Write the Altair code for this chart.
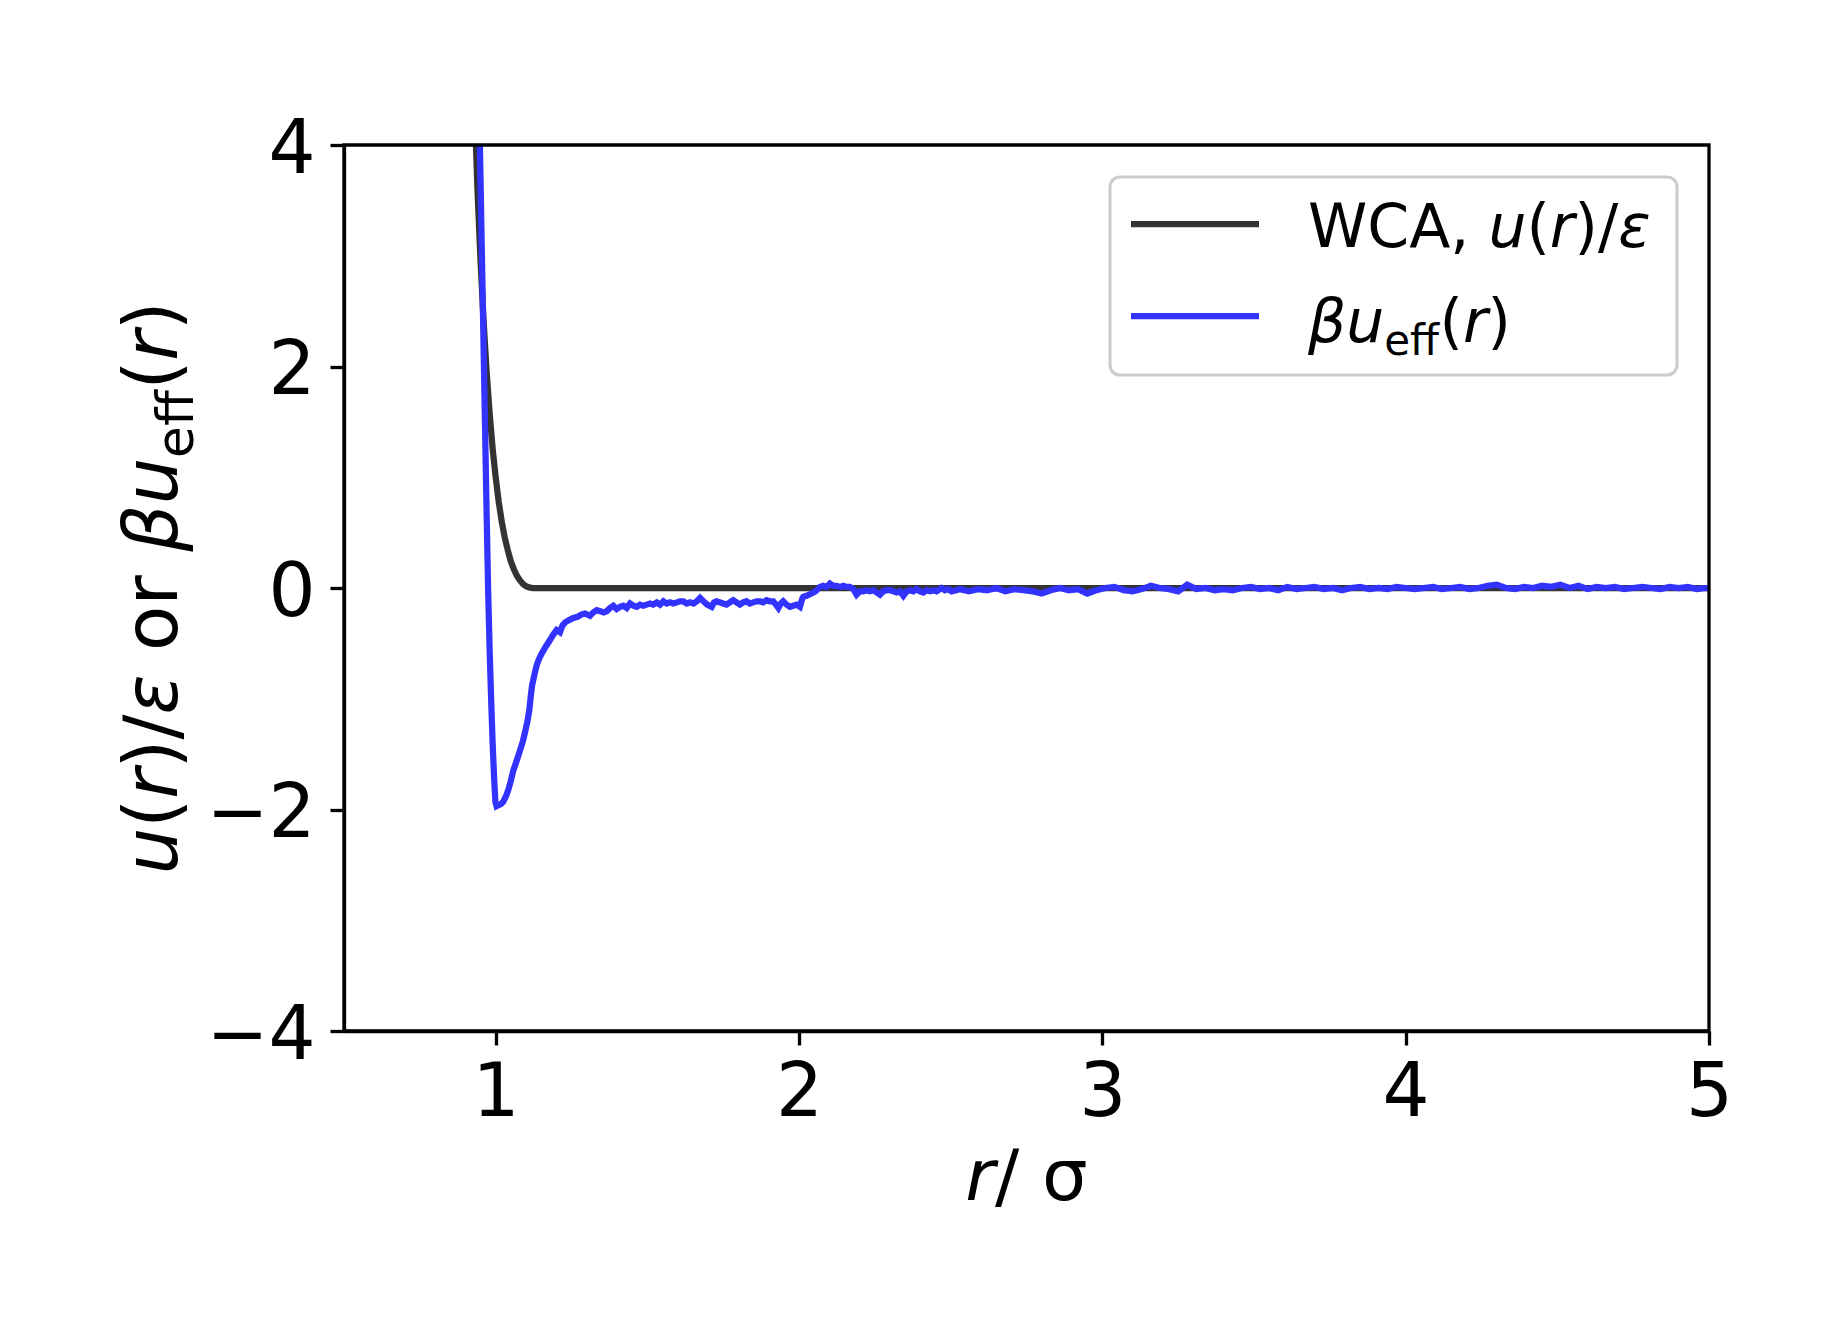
import altair as alt
import pandas as pd

# ---------------- data ----------------
r_wca = [0.925, 0.935, 0.94, 0.95, 0.96, 0.97, 0.98, 0.99, 1.00, 1.01, 1.02, 1.03,
         1.04, 1.05, 1.06, 1.07, 1.08, 1.09, 1.10, 1.11, 1.1225, 5.0]
u_wca = [4.8, 4.0, 3.6, 2.96, 2.42, 1.96, 1.58, 1.26, 1.00, 0.78, 0.60, 0.455,
         0.34, 0.24, 0.17, 0.11, 0.068, 0.037, 0.016, 0.005, 0.0, 0.0]

r_eff = [0.944, 0.948, 0.956, 0.964, 0.970, 0.975, 0.980, 0.985, 0.990, 0.995, 0.999,
         1.003, 1.010, 1.018, 1.025, 1.034, 1.042, 1.050, 1.058, 1.068, 1.080, 1.090,
         1.097, 1.105, 1.111, 1.116, 1.120, 1.128, 1.135, 1.143, 1.152, 1.165, 1.179,
         1.190, 1.201, 1.212, 1.220, 1.229, 1.242, 1.256, 1.270, 1.282, 1.294, 1.311,
         1.322, 1.333, 1.345, 1.356, 1.366, 1.377, 1.388, 1.399, 1.410, 1.421, 1.432,
         1.443, 1.454, 1.465, 1.476, 1.487, 1.498, 1.509, 1.519, 1.531, 1.542, 1.553,
         1.564, 1.575, 1.586, 1.597, 1.608, 1.619, 1.630, 1.641, 1.652, 1.663, 1.674,
         1.685, 1.697, 1.712, 1.720, 1.728, 1.740, 1.750, 1.761, 1.772, 1.783, 1.794,
         1.805, 1.816, 1.827, 1.838, 1.849, 1.860, 1.871, 1.882, 1.893, 1.904, 1.915,
         1.924, 1.932, 1.940, 1.948, 1.959, 1.970, 1.981, 1.992, 2.003, 2.010, 2.014,
         2.025, 2.041, 2.055, 2.069, 2.080, 2.091, 2.102, 2.113, 2.124, 2.135, 2.146,
         2.157, 2.168, 2.179, 2.190, 2.201, 2.212, 2.223, 2.234, 2.245, 2.256, 2.267,
         2.278, 2.289, 2.300, 2.311, 2.322, 2.333, 2.344, 2.355, 2.366, 2.377, 2.388,
         2.399, 2.410, 2.421, 2.432, 2.443, 2.454, 2.470, 2.481, 2.492, 2.503, 2.519,
         2.53, 2.56, 2.59, 2.62, 2.65, 2.68, 2.71, 2.74, 2.77, 2.80, 2.83, 2.86, 2.89,
         2.92, 2.95, 2.98, 3.01, 3.04, 3.07, 3.10, 3.13, 3.16, 3.19, 3.22, 3.25, 3.28,
         3.31, 3.34, 3.37, 3.40, 3.43, 3.46, 3.49, 3.52, 3.55, 3.58, 3.61, 3.64, 3.67,
         3.70, 3.73, 3.76, 3.79, 3.82, 3.85, 3.88, 3.91, 3.94, 3.97, 4.00, 4.03, 4.06,
         4.09, 4.12, 4.15, 4.18, 4.21, 4.24, 4.27, 4.30, 4.33, 4.36, 4.39, 4.42, 4.45,
         4.48, 4.51, 4.54, 4.57, 4.60, 4.63, 4.66, 4.69, 4.72, 4.75, 4.78, 4.81, 4.84,
         4.87, 4.90, 4.93, 4.96, 4.99, 5.00]
u_eff = [4.6, 4.0, 2.8, 1.6, 0.7, 0.0, -0.55, -1.0, -1.4, -1.72, -1.93,
         -1.97, -1.96, -1.95, -1.93, -1.88, -1.82, -1.74, -1.65, -1.57, -1.47, -1.38,
         -1.30, -1.20, -1.10, -0.97, -0.88, -0.78, -0.70, -0.64, -0.59, -0.53, -0.47,
         -0.42, -0.38, -0.40, -0.34, -0.31, -0.29, -0.27, -0.26, -0.24, -0.23, -0.25,
         -0.22, -0.20, -0.21, -0.22, -0.21, -0.18, -0.16, -0.19, -0.17, -0.16, -0.18,
         -0.14, -0.16, -0.17, -0.15, -0.16, -0.15, -0.14, -0.15, -0.13, -0.15, -0.12,
         -0.14, -0.13, -0.14, -0.13, -0.12, -0.12, -0.14, -0.13, -0.14, -0.12, -0.09,
         -0.12, -0.15, -0.17, -0.13, -0.12, -0.13, -0.14, -0.15, -0.13, -0.11, -0.13,
         -0.15, -0.13, -0.12, -0.14, -0.13, -0.12, -0.12, -0.13, -0.11, -0.12, -0.12,
         -0.15, -0.18, -0.14, -0.12, -0.15, -0.17, -0.16, -0.15, -0.17, -0.10, -0.08,
         -0.07, -0.05, -0.03, 0.01, 0.02, 0.01, 0.04, 0.02, 0.02, 0.01, 0.02,
         0.01, 0.01, -0.01, -0.06, -0.03, -0.03, -0.02, -0.03, -0.02, -0.04, -0.06,
         -0.03, -0.02, -0.02, -0.03, -0.04, -0.03, -0.07, -0.03, -0.02, -0.03, -0.01,
         -0.03, -0.04, -0.02, -0.03, -0.02, -0.03, 0.00, -0.02, -0.01, -0.03, -0.02,
         -0.01, -0.03, -0.01, -0.02, 0.00, -0.03, -0.01, -0.02, -0.03, -0.05, -0.02, 0.00, -0.02,
         -0.01, -0.05, -0.02, 0.00, 0.01, -0.02, -0.03, -0.01, 0.02, 0.00, -0.01, -0.03, 0.03,
         -0.01, 0.00, -0.02, -0.01, -0.02, 0.00, 0.01, -0.01, 0.00, -0.02, 0.01, -0.01, 0.00,
         0.01, -0.01, 0.00, -0.02, 0.00, 0.01, -0.01, 0.00, -0.01, 0.01, 0.00, -0.01, 0.00,
         0.01, -0.01, 0.00, 0.01, -0.01, 0.00, 0.02, 0.03, 0.00, -0.01, 0.01, 0.00, 0.02,
         0.01, 0.03, 0.00, 0.02, -0.01, 0.01, 0.00, 0.01, -0.01, 0.00, 0.01, 0.00, -0.01,
         0.01, 0.00, 0.01, -0.01, 0.00, 0.00]

x_ticks = [1, 2, 3, 4, 5]
y_ticks = [-4, -2, 0, 2, 4]
series_names = ["a_wca", "b_eff"]
series_colors = ["#333333", "#3333ff"]

# ---------------- layout ----------------
W, H = 1365, 886
FONT = "DejaVu Sans"
TICK_FS = 74
LW = 6.25
NB = "\u00a0"  # non-breaking space so SVG keeps it

lines_df = pd.concat([
    pd.DataFrame({"r": r_wca, "u": u_wca, "s": series_names[0], "o": range(len(r_wca))}),
    pd.DataFrame({"r": r_eff, "u": u_eff, "s": series_names[1], "o": range(len(r_eff))}),
])

lines = alt.Chart(lines_df).mark_line(clip=True, strokeWidth=LW).encode(
    x=alt.X("r:Q", scale=alt.Scale(domain=[0.5, 5], nice=False, zero=False),
            axis=alt.Axis(values=x_ticks, format="d", title=None, grid=False,
                          labelFont=FONT, labelFontSize=TICK_FS, labelColor="black",
                          labelFlush=False, labelOverlap=False,
                          tickSize=14, tickWidth=3.3, tickColor="black",
                          domainColor="black", domainWidth=3.3, labelPadding=12)),
    y=alt.Y("u:Q", scale=alt.Scale(domain=[-4, 4], nice=False, zero=False),
            axis=alt.Axis(values=y_ticks, title=None, grid=False,
                          labelExpr="datum.value < 0 ? '\u2212' + format(-datum.value, 'd') : format(datum.value, 'd')",
                          labelFont=FONT, labelFontSize=TICK_FS, labelColor="black",
                          labelFlush=False, labelOverlap=False,
                          tickSize=14, tickWidth=3.3, tickColor="black",
                          domainColor="black", domainWidth=3.3, labelPadding=15,
                          labelOffset=5)),
    color=alt.Color("s:N", scale=alt.Scale(domain=series_names, range=series_colors), legend=None),
    order="o:Q",
)

# ---------------- mixed-style text pieces ----------------
CW = {"W": 0.989, "C": 0.698, "A": 0.684, ",": 0.318, " ": 0.318, NB: 0.318, "u": 0.634,
      "(": 0.390, "r": 0.411, ")": 0.390, "/": 0.337, "\u03b5": 0.541,
      "\u03b2": 0.635, "\u03c3": 0.634, "e": 0.615, "f": 0.352, "o": 0.612}


def pieces_layout(pieces, fs, x0, y0, rotated=False, center=False):
    """pieces: (text, italic, subscript); a text of only spaces just advances."""
    rows = []
    widths = []
    for txt, ital, sub in pieces:
        size = fs * 0.7 if sub else fs
        widths.append(sum(CW.get(c, 0.6) for c in txt) * size)
    total = sum(widths)
    off = -total / 2 if center else 0.0
    for (txt, ital, sub), w in zip(pieces, widths):
        size = fs * 0.7 if sub else fs
        shift = 0.22 * fs if sub else 0.0
        if txt.strip(" " + NB):
            if rotated:
                rows.append({"px": x0 + shift, "py": y0 - off, "txt": txt, "ang": 270,
                             "fs": size, "it": ital})
            else:
                rows.append({"px": x0 + off, "py": y0 + shift, "txt": txt, "ang": 0,
                             "fs": size, "it": ital})
        off += w
    return rows


rows = []
# legend entries
rows += pieces_layout([("WCA,", False, False), (" ", False, False), ("u", True, False),
                       ("(", False, False), ("r", True, False), (")/", False, False),
                       ("\u03b5", True, False)],
                      60, 964, 102)
rows += pieces_layout([("\u03b2u", True, False), ("eff", False, True), ("(", False, False),
                       ("r", True, False), (")", False, False)],
                      60, 964, 197)
# x axis title
rows += pieces_layout([("r", True, False), ("/", False, False), (" ", False, False),
                       ("\u03c3", False, False)],
                      72, W / 2, 1055, center=True)
# y axis title
rows += pieces_layout([("u", True, False), ("(", False, False), ("r", True, False),
                       (")/", False, False), ("\u03b5", True, False),
                       (" ", False, False), ("or", False, False), (" ", False, False),
                       ("\u03b2u", True, False), ("eff", False, True), ("(", False, False),
                       ("r", True, False), (")", False, False)],
                      74, -167, H / 2, rotated=True, center=True)

text_df = pd.DataFrame(rows)


def text_layer(df, italic):
    return alt.Chart(df).mark_text(
        align="left", baseline="alphabetic", font=FONT, color="black",
        fontStyle="italic" if italic else "normal",
    ).encode(
        x=alt.X("px:Q", scale=None, axis=None),
        y=alt.Y("py:Q", scale=None, axis=None),
        text="txt:N",
        angle=alt.Angle("ang:Q", scale=None),
        size=alt.Size("fs:Q", scale=None, legend=None),
    )


txt_up = text_layer(text_df[~text_df["it"]], False)
txt_it = text_layer(text_df[text_df["it"]], True)

one = alt.Data(values=[{"k": 1}])
frame = alt.Chart(one).mark_rect(
    fill=None, fillOpacity=0, stroke="black", strokeWidth=3.3
).encode(x=alt.value(0), x2=alt.value(W), y=alt.value(0), y2=alt.value(H))

legend_box = alt.Chart(one).mark_rect(
    fill="white", fillOpacity=0.8, stroke="#cccccc", strokeWidth=3, cornerRadius=10
).encode(x=alt.value(766), x2=alt.value(1333), y=alt.value(32), y2=alt.value(230))

leg_line1 = alt.Chart(one).mark_rule(strokeWidth=LW, color=series_colors[0]).encode(
    x=alt.value(787), x2=alt.value(915), y=alt.value(79))
leg_line2 = alt.Chart(one).mark_rule(strokeWidth=LW, color=series_colors[1]).encode(
    x=alt.value(787), x2=alt.value(915), y=alt.value(171))

chart = alt.layer(lines, frame, legend_box, leg_line1, leg_line2, txt_up, txt_it).resolve_scale(
    x="independent", y="independent"
).properties(
    width=W, height=H,
    autosize=alt.AutoSizeParams(type="none"),
    padding={"left": 336, "top": 137, "right": 120, "bottom": 280},
).configure_view(stroke=None).configure(background="white")

chart.save("out.html", embed_options={"renderer": "svg", "actions": False})
